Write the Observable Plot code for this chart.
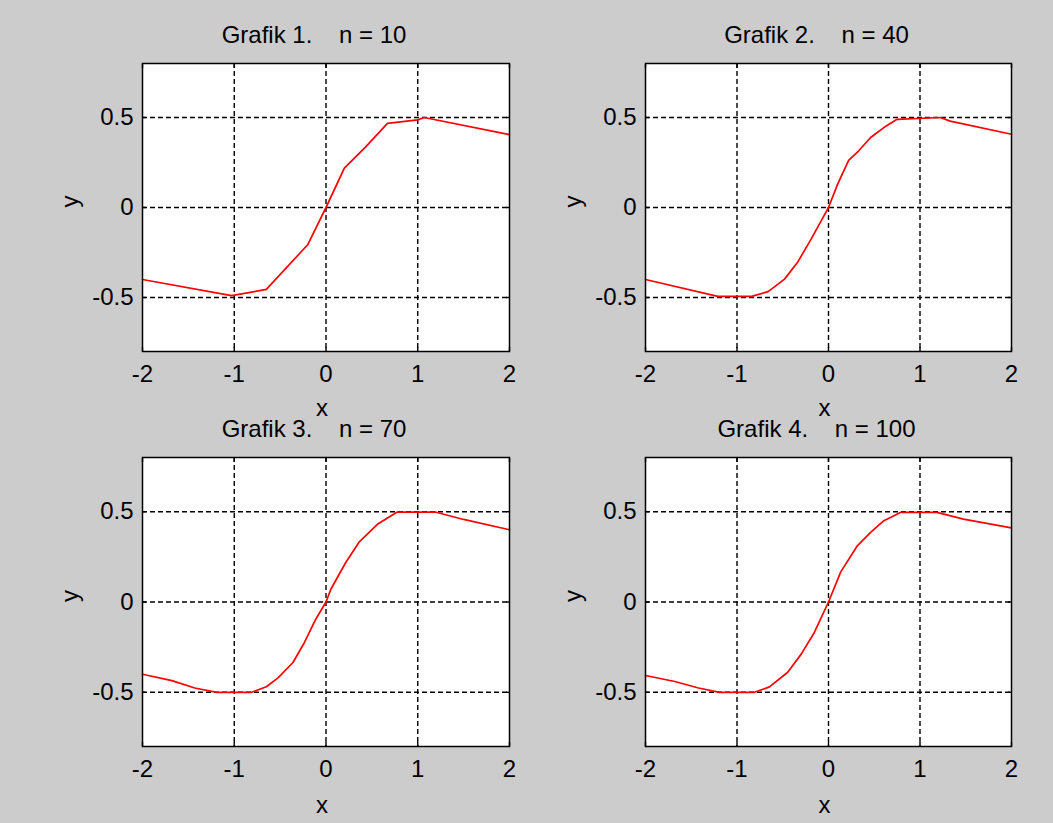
<!DOCTYPE html>
<html>
<head>
<meta charset="utf-8">
<script src="https://cdn.jsdelivr.net/npm/d3@7"></script>
<script src="https://cdn.jsdelivr.net/npm/@observablehq/plot@0.6"></script>
<style>
  html, body { margin: 0; padding: 0; background: #cccccc; }
  #fig { position: relative; width: 1053px; height: 823px; background: #cccccc; overflow: hidden; }
  #fig svg { position: absolute; overflow: visible; }
</style>
</head>
<body>
<div id="fig"></div>
<script>
// ---- data ----
const titles = [
  "Grafik 1.\u00a0\u00a0\u00a0\u00a0n = 10",
  "Grafik 2.\u00a0\u00a0\u00a0\u00a0n = 40",
  "Grafik 3.\u00a0\u00a0\u00a0\u00a0n = 70",
  "Grafik 4.\u00a0\u00a0\u00a0\u00a0n = 100"
];
const xTicks = [-2, -1, 0, 1, 2];
const yTicks = [-0.5, 0, 0.5];
const xGrid = [-1, 0, 1];
const yGrid = [-0.5, 0, 0.5];

const x1 = [-2, -1.03, -0.65, -0.2, 0, 0.2, 0.43, 0.67, 1.0, 1.07, 2];
const y1 = [-0.40, -0.49, -0.455, -0.207, 0, 0.219, 0.335, 0.467, 0.487, 0.5, 0.405];

const x2 = [-2, -1.21, -0.84, -0.66, -0.48, -0.34, -0.19, -0.08, 0, 0.1, 0.22, 0.33, 0.46, 0.605, 0.75, 1.22, 1.33, 2];
const y2 = [-0.40, -0.494, -0.494, -0.467, -0.398, -0.306, -0.176, -0.074, 0, 0.13, 0.262, 0.315, 0.389, 0.444, 0.49, 0.5, 0.48, 0.407];

const x3 = [-2, -1.68, -1.43, -1.19, -0.81, -0.65, -0.52, -0.36, -0.235, -0.11, 0, 0.054, 0.217, 0.36, 0.56, 0.776, 1.19, 1.5, 2];
const y3 = [-0.40, -0.435, -0.476, -0.5, -0.5, -0.469, -0.419, -0.335, -0.224, -0.094, 0, 0.072, 0.22, 0.331, 0.43, 0.498, 0.498, 0.457, 0.40];

const x4 = [-2, -1.68, -1.42, -1.19, -0.81, -0.645, -0.446, -0.3, -0.156, 0, 0.134, 0.315, 0.46, 0.605, 0.786, 1.185, 1.475, 2];
const y4 = [-0.407, -0.44, -0.476, -0.5, -0.5, -0.47, -0.389, -0.29, -0.17, 0, 0.167, 0.311, 0.385, 0.45, 0.496, 0.496, 0.459, 0.41];

const series = [[x1, y1], [x2, y2], [x3, y3], [x4, y4]];

// ---- layout ----
const FONT = "'Liberation Sans', Arial, sans-serif";
const fmt = d => String(d);
const panels = [
  {left: 0,   top: 0,   height: 430, mt: 63, mb: 79, xlabDy: 64},
  {left: 503, top: 0,   height: 430, mt: 63, mb: 79, xlabDy: 64},
  {left: 0,   top: 394, height: 429, mt: 63, mb: 77, xlabDy: 66},
  {left: 503, top: 394, height: 429, mt: 63, mb: 77, xlabDy: 66}
];
const fig = document.getElementById("fig");

panels.forEach((p, i) => {
  const [xs, ys] = series[i];
  const data = xs.map((x, k) => ({x, y: ys[k]}));
  const grid = {stroke: "black", strokeOpacity: 1, strokeWidth: 1.4, strokeDasharray: "5,3"};
  const tickOpts = (anchor) => ({anchor, tickSize: -4, tickFormat: () => "", strokeWidth: 1.4, label: null});
  const chart = Plot.plot({
    width: 526,
    height: p.height,
    marginLeft: 142,
    marginRight: i % 2 === 0 ? 17 : 18,
    marginTop: p.mt,
    marginBottom: p.mb,
    style: {background: "transparent", fontFamily: FONT, fontSize: "24px", color: "black", overflow: "visible"},
    x: {domain: [-2, 2], label: null},
    y: {domain: [-0.8, 0.8], label: null},
    marks: [
      Plot.frame({fill: "white", stroke: null}),
      Plot.gridX(xGrid, grid),
      Plot.gridY(yGrid, grid),
      Plot.line(data, {x: "x", y: "y", stroke: "#ff0000", strokeWidth: 1.7}),
      Plot.frame({stroke: "black", strokeWidth: 1.5}),
      // inward tick marks
      Plot.axisX(xTicks, tickOpts("bottom")),
      Plot.axisX(xTicks, tickOpts("top")),
      Plot.axisY(yTicks, tickOpts("left")),
      Plot.axisY(yTicks, tickOpts("right")),
      // tick labels
      Plot.axisX(xTicks, {anchor: "bottom", tickSize: 0, tickPadding: 13, tickFormat: fmt, fontSize: 24, fill: "black", label: null}),
      Plot.axisY(yTicks, {anchor: "left", tickSize: 0, tickPadding: 9, tickFormat: fmt, fontSize: 24, fill: "black", label: null}),
      // labels and title
      Plot.text(["x"], {text: d => d, frameAnchor: "bottom", dy: p.xlabDy, dx: -4, lineAnchor: "bottom", fontSize: 24, fill: "black"}),
      Plot.text(["y"], {text: d => d, frameAnchor: "left", dx: -72, rotate: -90, fontSize: 24, fill: "black"}),
      Plot.text([titles[i]], {text: d => d, frameAnchor: "top", dy: -21, dx: -12, lineAnchor: "bottom", fontSize: 24, fill: "black"})
    ]
  });
  chart.style.left = p.left + "px";
  chart.style.top = p.top + "px";
  fig.appendChild(chart);
});
</script>
</body>
</html>
